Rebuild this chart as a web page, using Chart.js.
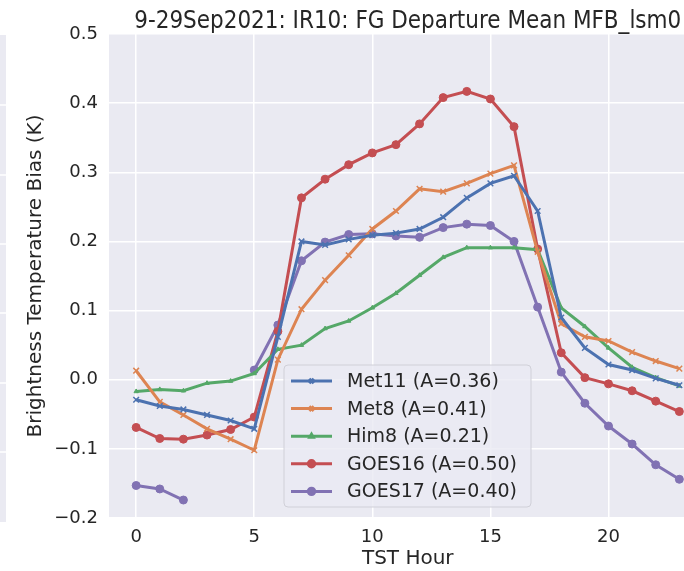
<!DOCTYPE html>
<html>
<head>
<meta charset="utf-8">
<script src="https://cdn.jsdelivr.net/npm/chart.js@4"></script>
<style>
  html, body { margin: 0; padding: 0; background: #ffffff; overflow: hidden; }
  #wrap { width: 712px; height: 571px; }
</style>
</head>
<body>
<div id="wrap"><canvas id="myChart" width="712" height="571"></canvas></div>
<script>
const hours = [0, 1, 2, 3, 4, 5, 6, 7, 8, 9, 10, 11, 12, 13, 14, 15, 16, 17, 18, 19, 20, 21, 22, 23];

const met11 = [-0.029, -0.038, -0.043, -0.051, -0.059, -0.071, 0.062, 0.200, 0.195, 0.203, 0.209, 0.212,
               0.218, 0.235, 0.263, 0.284, 0.295, 0.244, 0.090, 0.046, 0.022, 0.014, 0.002, -0.008];
const met8 = [0.013, -0.032, -0.051, -0.071, -0.086, -0.102, 0.029, 0.102, 0.144, 0.180, 0.218, 0.244,
              0.276, 0.272, 0.284, 0.298, 0.310, 0.185, 0.081, 0.062, 0.056, 0.040, 0.027, 0.016];
const him8 = [-0.017, -0.014, -0.016, -0.005, -0.002, 0.009, 0.044, 0.050, 0.074, 0.085, 0.104, 0.125,
              0.151, 0.177, 0.191, 0.191, 0.191, 0.188, 0.104, 0.077, 0.046, 0.018, 0.003, -0.009];
const goes16 = [-0.069, -0.085, -0.086, -0.080, -0.072, -0.054, 0.070, 0.263, 0.290, 0.311, 0.328, 0.340,
                0.370, 0.408, 0.417, 0.406, 0.366, 0.189, 0.039, 0.003, -0.006, -0.016, -0.031, -0.046];
const goes17 = [-0.153, -0.158, -0.174, null, null, 0.014, 0.079, 0.172, 0.199, 0.210, 0.211, 0.208,
                0.206, 0.220, 0.225, 0.223, 0.200, 0.105, 0.011, -0.034, -0.067, -0.093, -0.123, -0.144];

const seriesNames = ['Met11 (A=0.36)', 'Met8 (A=0.41)', 'Him8 (A=0.21)', 'GOES16 (A=0.50)', 'GOES17 (A=0.40)'];
const xTicks = [0, 5, 10, 15, 20];
const yTicks = [-0.2, -0.1, 0.0, 0.1, 0.2, 0.3, 0.4, 0.5];
const titleText = '9-29Sep2021: IR10: FG Departure Mean MFB_lsm0';

const colors = ['#4c72b0', '#dd8452', '#55a868', '#c44e52', '#8172b3'];
const styles = ['crossRot', 'crossRot', 'triangle', 'circle', 'circle'];
const radii = [4, 4, 2.5, 4, 4];
const FONT = "'DejaVu Sans', sans-serif";
const TEXT = '#262626';

function toPoints(vals) {
    return hours.map((h, i) => ({ x: h, y: vals[i] }));
}

const allSeries = [met11, met8, him8, goes16, goes17];
const datasets = allSeries.map((vals, i) => ({
    label: seriesNames[i],
    data: toPoints(vals),
    borderColor: colors[i],
    backgroundColor: colors[i],
    borderWidth: 3,
    pointStyle: styles[i],
    pointRadius: radii[i],
    pointBorderWidth: styles[i] === 'crossRot' ? 1.5 : 1,
    pointHoverRadius: radii[i],
    spanGaps: false,
    tension: 0
}));

// neighbouring panel edge visible at the far left
const edgePanel = {
    id: 'edgePanel',
    beforeDraw(chart) {
        const c = chart.ctx;
        c.save();
        c.fillStyle = '#eaeaf2';
        c.fillRect(0, 35, 6, 487);
        c.strokeStyle = '#ffffff';
        c.lineWidth = 1.5;
        [105, 175, 244, 313, 383, 452].forEach(y => {
            c.beginPath(); c.moveTo(0, y); c.lineTo(6, y); c.stroke();
        });
        c.restore();
    }
};

const plotBg = {
    id: 'plotBg',
    beforeDraw(chart) {
        const a = chart.chartArea;
        const c = chart.ctx;
        c.save();
        c.fillStyle = '#eaeaf2';
        c.fillRect(a.left, a.top, a.right - a.left, a.bottom - a.top);
        c.restore();
    }
};

const titleAndLegend = {
    id: 'titleAndLegend',
    afterDraw(chart) {
        const a = chart.chartArea;
        const c = chart.ctx;
        c.save();
        // title centred over the axes, drawn a bit narrow like the original
        c.fillStyle = TEXT;
        c.font = '24px ' + FONT;
        c.textAlign = 'center';
        c.textBaseline = 'alphabetic';
        const tw = c.measureText(titleText).width;
        const sx = Math.min(1, 547 / tw);
        c.save();
        c.translate((a.left + a.right) / 2, 28);
        c.scale(sx, 1);
        c.fillText(titleText, 0, 0);
        c.restore();

        // legend box
        const bx = a.left + 175, by = a.top + 331, bw = 247, bh = 142;
        c.beginPath();
        c.roundRect(bx, by, bw, bh, 4);
        c.fillStyle = 'rgba(234,234,242,0.8)';
        c.fill();
        c.strokeStyle = '#d0d0d8';
        c.lineWidth = 1;
        c.stroke();

        c.font = '19px ' + FONT;
        c.textAlign = 'left';
        c.textBaseline = 'middle';
        chart.data.datasets.forEach((ds, i) => {
            const y = by + 16 + i * 27.6;
            c.strokeStyle = ds.borderColor;
            c.lineWidth = 3;
            c.beginPath(); c.moveTo(bx + 7, y); c.lineTo(bx + 48, y); c.stroke();
            Chart.helpers.drawPoint(c, {
                pointStyle: ds.pointStyle, radius: ds.pointRadius * 0.8, borderWidth: ds.pointBorderWidth
            }, bx + 27.5, y);
            c.fillStyle = ds.borderColor;
            if (ds.pointStyle !== 'crossRot') c.fill();
            c.fillStyle = TEXT;
            c.fillText(ds.label, bx + 63, y + 1);
        });
        c.restore();
    }
};

const ctx = document.getElementById('myChart').getContext('2d');
new Chart(ctx, {
    type: 'line',
    data: { datasets: datasets },
    options: {
        responsive: false,
        animation: false,
        layout: { padding: { top: 34, right: 5, left: 0, bottom: 0 } },
        plugins: {
            legend: { display: false },
            title: { display: false },
            tooltip: { enabled: false }
        },
        scales: {
            x: {
                type: 'linear',
                min: -1.15,
                max: 24.15,
                border: { display: false },
                grid: { color: '#ffffff', lineWidth: 1.5, drawTicks: false },
                afterBuildTicks: s => { s.ticks = xTicks.map(v => ({ value: v })); },
                afterFit: s => { s.height = 53; },
                ticks: {
                    padding: 9,
                    color: TEXT,
                    font: { family: FONT, size: 18 },
                    callback: v => String(v)
                },
                title: {
                    display: true,
                    text: 'TST Hour',
                    color: TEXT,
                    font: { family: FONT, size: 20 },
                    padding: { top: 0, bottom: 0 }
                }
            },
            y: {
                type: 'linear',
                min: -0.2,
                max: 0.5,
                border: { display: false },
                grid: { color: '#ffffff', lineWidth: 1.5, drawTicks: false },
                afterBuildTicks: s => { s.ticks = yTicks.map(v => ({ value: v })); },
                afterFit: s => { s.width = 109; },
                ticks: {
                    padding: 11,
                    color: TEXT,
                    font: { family: FONT, size: 18 },
                    callback: v => (v < 0 ? '\u2212' : '') + Math.abs(v).toFixed(1)
                },
                title: {
                    display: true,
                    text: 'Brightness Temperature Bias (K)',
                    color: TEXT,
                    font: { family: FONT, size: 20 },
                    padding: { top: 24, bottom: 0 }
                }
            }
        }
    },
    plugins: [edgePanel, plotBg, titleAndLegend]
});
</script>
</body>
</html>
